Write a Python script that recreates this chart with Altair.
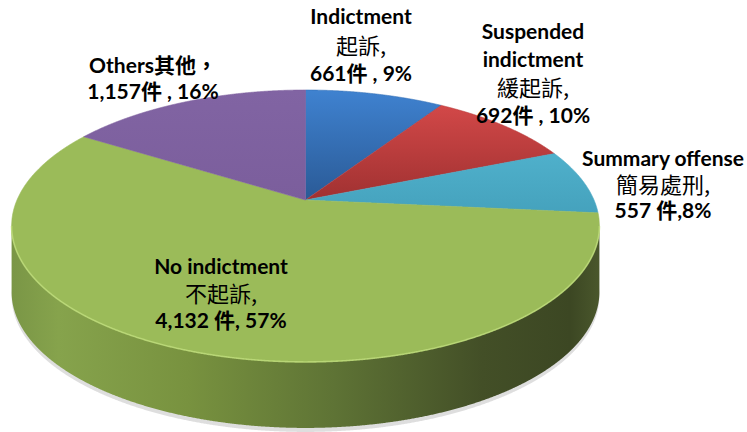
import numpy as np
import pandas as pd
import altair as alt

# ---------------- data ----------------
categories_en = ["Indictment", "Suspended indictment", "Summary offense", "No indictment", "Others"]
categories_zh = ["起訴", "緩起訴", "簡易處刑", "不起訴", "其他"]
counts = [661, 692, 557, 4132, 1157]
percents = [9, 10, 8, 57, 16]
label_lines = [
    ["Indictment", "起訴,", "661件 , 9%"],
    ["Suspended", "indictment", "緩起訴,", "692件 , 10%"],
    ["Summary offense", "簡易處刑,", "557 件,8%"],
    ["No indictment", "不起訴,", "4,132 件, 57%"],
    ["Others其他，", "1,157件 , 16%"],
]

# ---------------- layout (pixels) ----------------
W, H = 747, 432
VX, VY = 305.5, 200.0      # pie apex on screen
A, B, K = 288.5, 131.0, 0.191  # perspective ellipse model
DEPTH = 66
label_pos = [(361, 18, 28.5), (533, 33, 28), (663, 160, 26), (221, 268, 27), (153, 67, 26)]


def proj(phi):
    s = 1.0 / (1.0 + K * np.cos(phi))
    return VX + A * np.sin(phi) * s, VY - B * np.cos(phi) * s


total = float(sum(counts))
cum = np.concatenate([[0.0], np.cumsum(counts)]) / total * 2 * np.pi

rows = []
for i, cat in enumerate(categories_en):
    a0, a1 = cum[i], cum[i + 1]
    ph = np.linspace(a0, a1, 600)
    px, py = proj(ph)
    poly = [(VX, VY)] + list(zip(px, py)) + [(VX, VY)]
    xs_all = [p[0] for p in poly]
    xmin, xmax = min(xs_all), max(xs_all)
    grid = np.concatenate([[xmin + 1e-4], np.arange(np.ceil(xmin), np.floor(xmax) + 0.01, 0.5), [xmax - 1e-4]])
    for x in grid:
        ys = []
        for (x0, y0), (x1, y1) in zip(poly[:-1], poly[1:]):
            if (x0 <= x < x1) or (x1 <= x < x0):
                t = (x - x0) / (x1 - x0)
                ys.append(y0 + t * (y1 - y0))
        if len(ys) >= 2:
            rows.append({"cat": cat, "x": x, "y": min(ys), "y2": max(ys)})
top_df = pd.DataFrame(rows)

# front rim (visible side of the cylinder)
phr = np.linspace(np.arccos(-K), 2 * np.pi - np.arccos(-K), 900)
rx, ry = proj(phr)
side_df = pd.DataFrame({"x": rx, "y": ry, "y2": ry + DEPTH}).sort_values("x")
shadow_df = pd.DataFrame({"x": rx, "y": ry + DEPTH - 6, "y2": ry + DEPTH + 4}).sort_values("x")

lab_rows = []
for lines, (lx, ly, sp) in zip(label_lines, label_pos):
    for j, t in enumerate(lines):
        cjk_only = all(ord(c) > 0x2E80 or c in ",，" for c in t)
        lab_rows.append({"text": t, "x": lx, "y": ly + j * sp, "kind": "cjk" if cjk_only else "latin"})
lab_df = pd.DataFrame(lab_rows)

# ---------------- encodings ----------------
X = alt.X("x:Q", scale=alt.Scale(domain=[0, W], nice=False, zero=False), axis=None)
Y = alt.Y("y:Q", scale=alt.Scale(domain=[0, H], reverse=True, nice=False, zero=False), axis=None)
Y2 = alt.Y2("y2:Q")


def vgrad(c0, c1, horizontal=False):
    return alt.Gradient(
        gradient="linear",
        stops=[alt.GradientStop(offset=0, color=c0), alt.GradientStop(offset=1, color=c1)],
        x1=0, y1=0, x2=1 if horizontal else 0, y2=0 if horizontal else 1,
    )


fills = {
    "Indictment": (vgrad("#3F82D0", "#2A5A96"), "#3570B5"),
    "Suspended indictment": (vgrad("#D24848", "#A03131"), "#B83B3B"),
    "Summary offense": (vgrad("#4FB0CB", "#45A2BD"), "#4AA8C4"),
    "No indictment": ("#9BBB59", "#9BBB59"),
    "Others": (vgrad("#8164A3", "#7B5E9C"), "#7F62A0"),
}

shadow = alt.Chart(shadow_df).mark_area(color="#c8c8c8", opacity=0.6).encode(x=X, y=Y, y2=Y2)

side = alt.Chart(side_df).mark_area(
    color=alt.Gradient(
        gradient="linear",
        stops=[
            alt.GradientStop(offset=0.0, color="#7A9646"),
            alt.GradientStop(offset=0.08, color="#86A34C"),
            alt.GradientStop(offset=0.3, color="#78923F"),
            alt.GradientStop(offset=0.55, color="#5E7335"),
            alt.GradientStop(offset=0.8, color="#434F27"),
            alt.GradientStop(offset=0.95, color="#3C4723"),
            alt.GradientStop(offset=1.0, color="#4A572C"),
        ],
        x1=0, y1=0, x2=1, y2=0,
    )
).encode(x=X, y=Y, y2=Y2)

slice_layers = []
for cat in categories_en:
    fill, stroke = fills[cat]
    slice_layers.append(
        alt.Chart(top_df).transform_filter(alt.datum.cat == cat)
        .mark_area(color=fill, stroke=stroke, strokeWidth=0.6)
        .encode(x=X, y=Y, y2=Y2)
    )

rim = alt.Chart(side_df).mark_line(color="#BEDC7A", strokeWidth=1.6, opacity=0.8).encode(x=X, y=Y)

txt_latin = alt.Chart(lab_df).transform_filter(alt.datum.kind == "latin").mark_text(
    font="Lato, 'Noto Sans CJK TC'", fontSize=21, fontWeight="bold", color="#000000",
    align="center", baseline="middle",
).encode(x=X, y=Y, text="text:N")

txt_cjk = alt.Chart(lab_df).transform_filter(alt.datum.kind == "cjk").mark_text(
    font="'Noto Sans CJK TC'", fontSize=22, fontWeight="normal", color="#000000",
    align="center", baseline="middle",
).encode(x=X, y=Y, text="text:N")

chart = alt.layer(shadow, side, *slice_layers, rim, txt_latin, txt_cjk).properties(
    width=W, height=H, padding=0, autosize=alt.AutoSizeParams(type="none"), background="white"
).configure_view(stroke=None)

chart.save("out.html", embed_options={"renderer": "svg", "actions": False})
